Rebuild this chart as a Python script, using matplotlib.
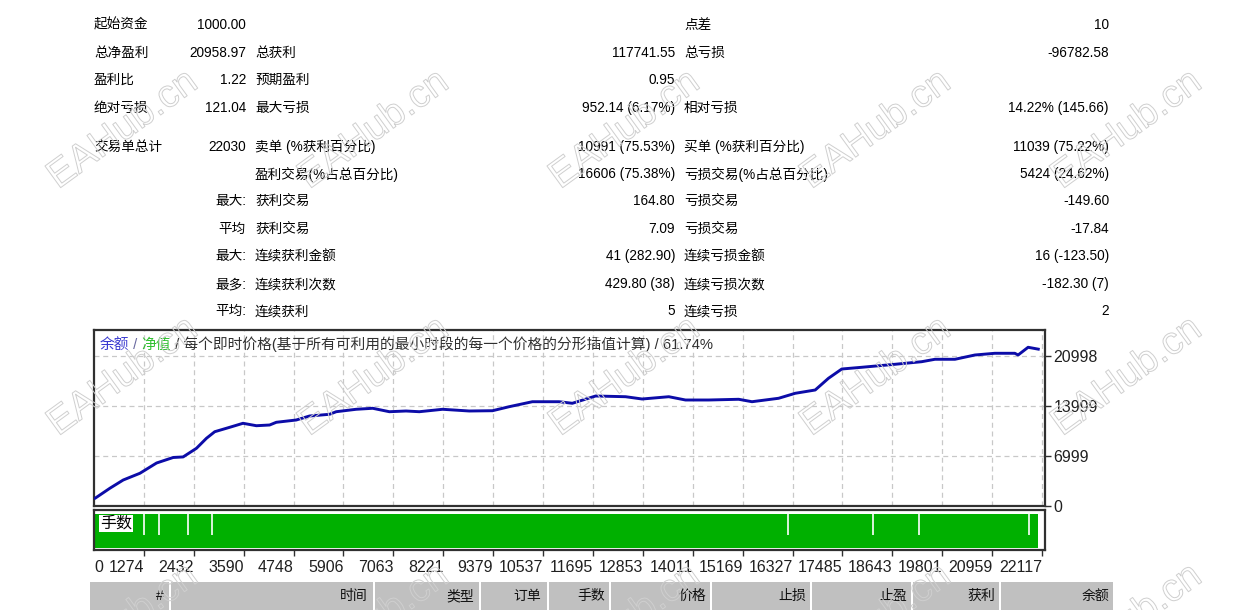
import numpy as np
import matplotlib.pyplot as plt
from matplotlib.patches import Rectangle
import matplotlib.patheffects as pe

plt.rcParams['font.family'] = ['Liberation Sans', 'Noto Sans CJK SC', 'DejaVu Sans']

W, H = 1242, 610

# summary table (rows top to bottom)
col_a = ['起始资金', '总净盈利', '盈利比', '绝对亏损', '交易单总计', '', '', '', '', '', '']
col_b = ['1000.00', '20958.97', '1.22', '121.04', '22030', '', '最大:', '平均', '最大:', '最多:', '平均:']
col_c = ['', '总获利', '预期盈利', '最大亏损', '卖单 (%获利百分比)', '盈利交易(%占总百分比)',
         '获利交易', '获利交易', '连续获利金额', '连续获利次数', '连续获利']
col_d = ['', '117741.55', '0.95', '952.14 (6.17%)', '10991 (75.53%)', '16606 (75.38%)',
         '164.80', '7.09', '41 (282.90)', '429.80 (38)', '5']
col_e = ['点差', '总亏损', '', '相对亏损', '买单 (%获利百分比)', '亏损交易(%占总百分比)',
         '亏损交易', '亏损交易', '连续亏损金额', '连续亏损次数', '连续亏损']
col_f = ['10', '-96782.58', '', '14.22% (145.66)', '11039 (75.22%)', '5424 (24.62%)',
         '-149.60', '-17.84', '16 (-123.50)', '-182.30 (7)', '2']

# balance curve (trade number, balance)
trade_no = [0, 140, 486, 794, 1181, 1568, 1952, 2184, 2494, 2726, 2918, 3266, 3574, 3884,
            4192, 4347, 4810, 5118, 5582, 5737, 6200, 6584, 6971, 7358, 7666, 8206, 8824,
            9364, 9750, 10290, 10908, 11216, 11758, 12453, 12837, 13456, 13843, 14383,
            15077, 15386, 16003, 16390, 16853, 17161, 17470, 17933, 18706, 19322, 19633,
            20096, 20559, 21022, 21485, 21562, 21794, 22030]
balance = [1000, 1080, 2490, 3640, 4580, 6020, 6790, 6870, 8080, 9480, 10400, 11020, 11580,
           11240, 11340, 11720, 12040, 12600, 12840, 13200, 13540, 13680, 13200, 13300, 13200,
           13540, 13300, 13340, 13900, 14600, 14600, 14380, 15400, 15300, 14980, 15300, 14840,
           14840, 14940, 14600, 15080, 15780, 16240, 17880, 19180, 19420, 19840, 20200, 20540,
           20540, 21140, 21380, 21380, 21140, 22220, 21959]

# lots panel: normal lot everywhere, a few smaller-lot trades
total_trades = 22030
normal_lot = 1.0
small_lot_trades = [1281, 1621, 2300, 2849, 16221, 18190, 19267, 21817]
small_lot = 0.37

x_ticks = [1274, 2432, 3590, 4748, 5906, 7063, 8221, 9379, 10537, 11695, 12853, 14011,
           15169, 16327, 17485, 18643, 19801, 20959, 22117]
y_ticks = [0, 6999, 13999, 20998]

header_names = ['#', '时间', '类型', '订单', '手数', '价格', '止损', '止盈', '获利', '余额']
header_right = [164, 368, 474, 541, 605, 706, 806, 907, 995, 1109]
header_seps = [169, 373, 479, 547, 609, 710, 810, 911, 999]

fig = plt.figure(figsize=(W / 100, H / 100), dpi=100)
fig.patch.set_facecolor('white')


def fx(px):
    return px / W


def fy(py):
    return 1 - py / H


# ---- table ----
rows_y = [25, 53, 80, 108, 147, 174, 201, 229, 256, 284, 311]
fs = 9.8
for i, y in enumerate(rows_y):
    fig.text(fx(94), fy(y), col_a[i], ha='left', va='center', fontsize=fs)
    fig.text(fx(246), fy(y), col_b[i], ha='right', va='center', fontsize=fs)
    fig.text(fx(255), fy(y), col_c[i], ha='left', va='center', fontsize=fs)
    fig.text(fx(675), fy(y), col_d[i], ha='right', va='center', fontsize=fs)
    fig.text(fx(684), fy(y), col_e[i], ha='left', va='center', fontsize=fs)
    fig.text(fx(1109), fy(y), col_f[i], ha='right', va='center', fontsize=fs)

# ---- balance chart ----
xl = (116, 22186)
ax = fig.add_axes([fx(94), fy(506), fx(1045) - fx(94), fy(330) - fy(506)])
ax.plot(trade_no, balance, color='#0c0ca8', lw=2.1, zorder=3)
ax.set_xlim(*xl)
ax.set_ylim(0, 24640)
ax.set_xticks(x_ticks)
ax.set_yticks(y_ticks)
ax.grid(True, color='#c8c8c8', linestyle=(0, (4, 3)), lw=0.9)
ax.tick_params(axis='x', length=0, labelbottom=False)
ax.yaxis.tick_right()
ax.tick_params(axis='y', direction='out', length=4, width=1, color='#303030',
               labelsize=11.5, labelcolor='#202020', pad=2)
for s in ax.spines.values():
    s.set_color('#303030')
    s.set_linewidth(1.6)

title_fs = 10.6
t1 = ax.text(0.006, 0.915, '余额', transform=ax.transAxes, color='#3a3ad0',
             fontsize=title_fs, va='center', ha='left')
t2 = ax.annotate(' / ', xy=(1, 0), xycoords=t1, color='#6a6aa0', fontsize=title_fs,
                 va='bottom', ha='left')
t3 = ax.annotate('净值', xy=(1, 0), xycoords=t2, color='#30c030', fontsize=title_fs,
                 va='bottom', ha='left')
ax.annotate(' / 每个即时价格(基于所有可利用的最小时段的每一个价格的分形插值计算) / 61.74%',
            xy=(1, 0), xycoords=t3, color='#303030', fontsize=title_fs, va='bottom', ha='left')

# ---- lots panel ----
ax2 = fig.add_axes([fx(94), fy(550), fx(1045) - fx(94), fy(509.5) - fy(550)])
ax2.fill_between([0, total_trades], 0, normal_lot, color='#00b000', lw=0)
ax2.vlines(small_lot_trades, small_lot, normal_lot, colors='white', lw=1.2)
ax2.set_xlim(*xl)
ax2.set_ylim(-0.07, 1.12)
ax2.set_yticks([])
ax2.set_xticks([xl[0]] + x_ticks)
ax2.set_xticklabels(['0'] + [str(v) for v in x_ticks])
ax2.tick_params(axis='x', direction='out', length=4, width=1, color='#303030',
                labelsize=11.5, labelcolor='#202020', pad=3)
labs = ax2.get_xticklabels()
labs[0].set_ha('left')
for lab in labs[1:]:
    lab.set_ha('right')
ticks = ax2.xaxis.get_major_ticks()
ticks[0].tick1line.set_visible(False)
for s in ax2.spines.values():
    s.set_color('#303030')
    s.set_linewidth(1.6)
ax2.text(0.006, 0.66, '手数', transform=ax2.transAxes, fontsize=11.5, color='black',
         va='center', ha='left',
         bbox=dict(facecolor='white', edgecolor='none', pad=0.8))

# ---- trade list header ----
fig.patches.append(Rectangle((fx(90), 0), fx(1113) - fx(90), fy(582),
                             transform=fig.transFigure, facecolor='#c0c0c0',
                             edgecolor='none', zorder=1))
for sx in header_seps:
    fig.patches.append(Rectangle((fx(sx), 0), 2 / W, fy(582),
                                 transform=fig.transFigure, facecolor='white',
                                 edgecolor='none', zorder=2))
for name, rx in zip(header_names, header_right):
    fig.text(fx(rx), fy(596), name, ha='right', va='center', fontsize=10, color='#101010')

# ---- watermarks ----
for wy in [130, 377, 624]:
    for wx in [123, 374, 625, 876, 1127]:
        fig.text(fx(wx), fy(wy), 'EAHub.cn', fontsize=28, family='Liberation Sans',
                 color=(1, 1, 1, 0), rotation=36, rotation_mode='anchor',
                 ha='center', va='center', zorder=10,
                 path_effects=[pe.Stroke(linewidth=0.7, foreground='#cfcfcf')])

fig.savefig('out.png', dpi=100)
